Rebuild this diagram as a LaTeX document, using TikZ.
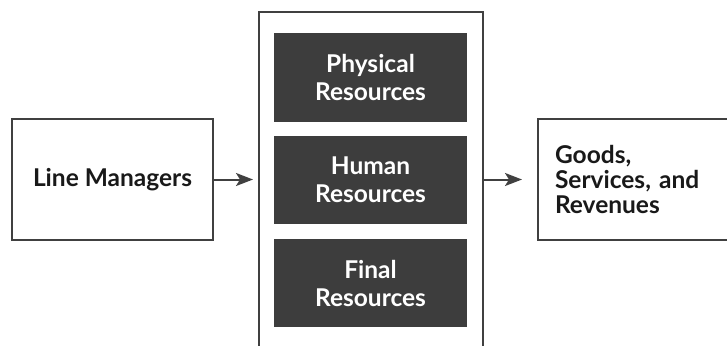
\documentclass[tikz,border=0pt]{standalone}
\usepackage{fontspec}
\setmainfont{Lato}
\usetikzlibrary{arrows.meta}
\definecolor{linec}{HTML}{404040}
\definecolor{darkfill}{HTML}{3D3D3D}
\begin{document}
\begin{tikzpicture}[x=1pt,y=1pt,
  wbox/.style={draw=linec, line width=2pt, fill=white, inner sep=0pt,
    font=\bfseries\fontsize{24.5}{25}\selectfont, text=black!90},
  dbox/.style={fill=darkfill, minimum width=193pt, minimum height=88pt, inner sep=0pt,
    align=center, font=\bfseries\fontsize{24.5}{28}\selectfont, text=white},
  arr/.style={draw=linec, line width=2pt, -{Stealth[length=17pt,width=13pt,inset=4pt]}}]
\clip (0,0) rectangle (727,-345);
\path[use as bounding box] (0,0) rectangle (727,-345);
\node[wbox, minimum width=201pt, minimum height=121pt] (lm) at (112.5,-179.5) {Line Managers};
\node[draw=linec, line width=2pt, minimum width=224pt, minimum height=360pt, anchor=north west, inner sep=0pt] (mid) at (258,-11) {};
\node[dbox] (phys) at (370.5,-77.5) {Physical\\Resources};
\node[dbox] (hum) at (370.5,-179.5) {Human\\Resources};
\node[dbox] (fin) at (370.5,-283) {Final\\Resources};
\node[wbox, minimum width=203pt, minimum height=121pt, anchor=west, align=left, text width=169pt, inner xsep=17pt] (out) at (537,-179.5) {Goods,\\Services, and\\Revenues};
\draw[arr, shorten >=5pt] (lm.east) -- (lm.east -| mid.west);
\draw[arr, shorten >=15pt] (mid.east |- out.west) -- (out.west);
\end{tikzpicture}
\end{document}
